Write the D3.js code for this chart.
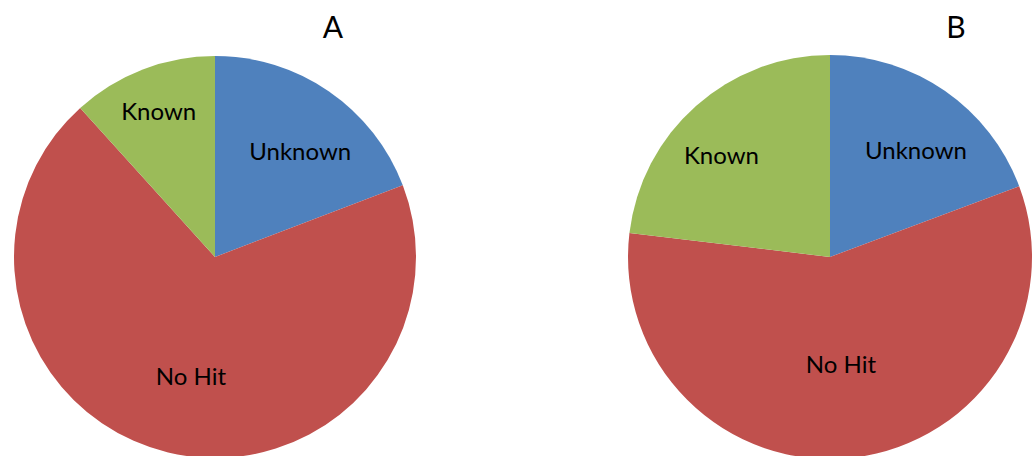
<!DOCTYPE html>
<html>
<head>
<meta charset="utf-8">
<script src="https://cdn.jsdelivr.net/npm/d3@7"></script>
<style>
  html, body { margin: 0; padding: 0; background: #fff; }
  svg { display: block; }
  text { font-family: Lato, "Open Sans", sans-serif; fill: #000; }
</style>
</head>
<body>
<svg id="chart" width="1035" height="456"></svg>
<script>
// Hit categories, drawn clockwise from 12 o'clock
const categories = ["Unknown", "No Hit", "Known"];
const chartTitles = ["A", "B"];
// Percent share of each category per chart
const valuesA = [19.2, 69.1, 11.7];
const valuesB = [19.3, 57.6, 23.1];

const colors = ["#4F81BD", "#C0504D", "#9BBB59"];

// Layout for each pie: centre, radius, title position,
// label radius fraction and angular nudge (degrees) per slice, in category order
const layouts = [
  { cx: 215, cy: 257, r: 201, titleX: 333, titleY: 38,
    labelR: [0.68, 0.60, 0.78], labelTurn: [4, -2, 0] },
  { cx: 830, cy: 257, r: 202, titleX: 956, titleY: 38,
    labelR: [0.68, 0.53, 0.74], labelTurn: [4, 1, -5] }
];

const svg = d3.select("#chart");
const pie = d3.pie().sort(null).value(d => d.value);

[valuesA, valuesB].forEach((vals, i) => {
  const L = layouts[i];
  const data = categories.map((c, k) => ({ name: c, value: vals[k], idx: k }));
  const arcs = pie(data);
  const arc = d3.arc().innerRadius(0).outerRadius(L.r);

  const g = svg.append("g").attr("transform", `translate(${L.cx},${L.cy})`);

  g.selectAll("path")
    .data(arcs)
    .join("path")
    .attr("d", arc)
    .attr("fill", d => colors[d.data.idx]);

  g.selectAll("text.label")
    .data(arcs)
    .join("text")
    .attr("class", "label")
    .attr("transform", d => {
      const k = d.data.idx;
      const lr = L.r * L.labelR[k];
      const a = (d.startAngle + d.endAngle) / 2 + L.labelTurn[k] * Math.PI / 180;
      return `translate(${lr * Math.sin(a)},${-lr * Math.cos(a)})`;
    })
    .attr("text-anchor", "middle")
    .attr("dominant-baseline", "central")
    .style("font-size", "24px")
    .text(d => d.data.name);

  svg.append("text")
    .attr("x", L.titleX)
    .attr("y", L.titleY)
    .attr("text-anchor", "middle")
    .style("font-size", "30px")
    .text(chartTitles[i]);
});
</script>
</body>
</html>
